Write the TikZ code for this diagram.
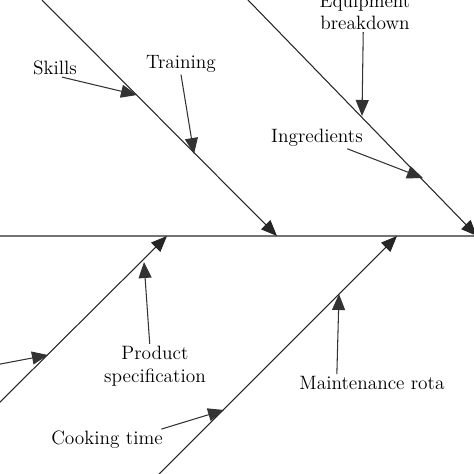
\documentclass[tikz,border=0pt]{standalone}
\usetikzlibrary{arrows.meta}

\begin{document}
\begin{tikzpicture}[
    x=0.02cm, y=-0.02cm,
    label/.style={font=\fontsize{11}{13}\selectfont, align=center, inner sep=1pt},
    spine/.style={draw=black!55, line width=0.8pt},
    bone/.style={draw=black!85, line width=0.6pt, -{Triangle[length=3.2mm, width=2.6mm]}},
    cause/.style={draw=black!80, line width=0.6pt, -{Triangle[length=3.2mm, width=2.6mm]}}
]
\useasboundingbox (0,0) rectangle (474,474);
\clip (0,0) rectangle (474,474);

% spine and bones
\coordinate (spineL) at (-5,236);
\coordinate (spineR) at (480,236);
\coordinate (ulStart) at (42,0);
\coordinate (ulEnd) at (277,236);
\coordinate (urStart) at (248,0);
\coordinate (urEnd) at (477,236);
\coordinate (llStart) at (-10,412);
\coordinate (llEnd) at (167,236);
\coordinate (lrStart) at (155,478);
\coordinate (lrEnd) at (397,236);

\draw[spine] (spineL) -- (spineR);
\draw[bone] (ulStart) -- (ulEnd);
\draw[bone] (urStart) -- (urEnd);
\draw[bone] (llStart) -- (llEnd);
\draw[bone] (lrStart) -- (lrEnd);

% causes
\node[label] (skills) at (55,68) {Skills};
\node[label] (training) at (181,64) {Training};
\node[label] (equip) at (365,12) {Equipment\\breakdown};
\node[label] (ingred) at (317,138) {Ingredients};
\node[label] (product) at (155,366) {Product\\specification};
\node[label] (maint) at (372,383) {Maintenance rota};
\node[label] (cooking) at (107,440) {Cooking time};

\coordinate (onSkills) at (137,95);
\coordinate (onTraining) at (194,154);
\coordinate (onEquip) at (362,116);
\coordinate (onIngred) at (423,178);
\coordinate (offLeft) at (-10,366);
\coordinate (onLeft) at (48,355);
\coordinate (onProduct) at (144,262);
\coordinate (onMaint) at (339,294);
\coordinate (onCooking) at (224,410);

\draw[cause] ([xshift=4pt]skills.south) -- (onSkills);
\draw[cause] (training.south) -- (onTraining);
\draw[cause] ([xshift=-1pt]equip.south) -- (onEquip);
\draw[cause] ([xshift=-10pt]ingred.south east) -- (onIngred);
\draw[cause] (offLeft) -- (onLeft);
\draw[cause] ([xshift=-3pt]product.north) -- (onProduct);
\draw[cause] ([xshift=-20pt]maint.north) -- (onMaint);
\draw[cause] ([xshift=-2pt]cooking.north east) -- (onCooking);
\end{tikzpicture}
\end{document}
